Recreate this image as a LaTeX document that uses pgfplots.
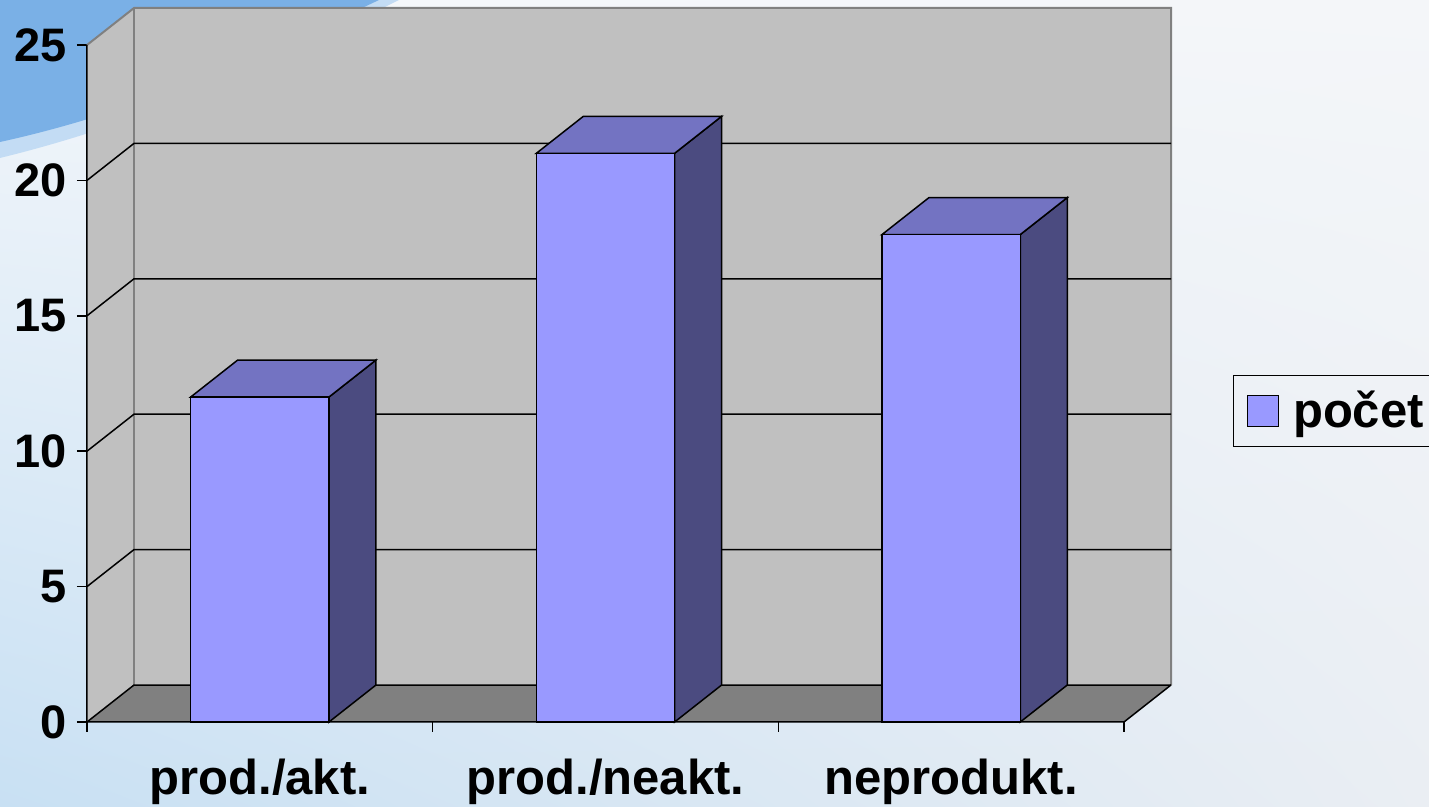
\documentclass[border=0pt]{standalone}
\usepackage{fontspec}
\setmainfont{Liberation Sans}
\usepackage{pgfplots}
\pgfplotsset{compat=1.18}
\usetikzlibrary{shadings}
\definecolor{barfront}{HTML}{9999FF}
\definecolor{bartop}{HTML}{7373C2}
\definecolor{barside}{HTML}{4B4B80}
\definecolor{wall}{HTML}{C0C0C0}
\definecolor{floorgray}{HTML}{808080}
\definecolor{walledge}{HTML}{808080}
\definecolor{bgul}{RGB}{244,247,251}
\definecolor{bgur}{RGB}{244,246,249}
\definecolor{bgll}{RGB}{200,224,243}
\definecolor{bglr}{RGB}{234,238,243}
\definecolor{bgblue}{RGB}{122,176,230}
\newcommand{\lblfont}{\fontsize{24.5}{29}\selectfont\bfseries}
\newcommand{\numfont}{\fontsize{23.5}{28}\selectfont\bfseries}

\begin{document}
\begin{tikzpicture}
% background of the slide
\shade[upper left=bgul, upper right=bgur, lower left=bgll, lower right=bglr]
  (-43.5pt,-42.5pt) rectangle (671pt,361pt);
\fill[bgblue!45!white] (-43.5pt,361pt) -- (156pt,361pt) .. controls (90pt,328pt) and (30pt,300pt) .. (-43.5pt,282pt) -- cycle;
\fill[bgblue] (-43.5pt,361pt) -- (146pt,361pt) .. controls (85pt,332pt) and (25pt,305pt) .. (-43.5pt,290pt) -- cycle;

\begin{axis}[
  at={(0,0)}, anchor=south west,
  x=172.83pt, y=13.54pt,
  xmin=0, xmax=3.14, ymin=0, ymax=26.4,
  clip=false,
  axis line style={draw=none},
  tick align=outside,
  major tick length=5pt,
  tick style={black, line width=0.75pt},
  xtick={0,1,2,3},
  x tick label as interval,
  xticklabels={prod./akt., prod./neakt., neprodukt.},
  ytick={0,5,...,25},
  xtick pos=bottom, ytick pos=left,
  /pgf/number format/assume math mode=true,
  ticklabel style={font=\lblfont},
  yticklabel style={anchor=east, xshift=-1.5pt, font=\numfont},
  xticklabel style={anchor=base, yshift=-31.5pt},
  legend style={at={(axis description cs:1.0557,0.435)}, anchor=west,
    draw=black, line width=0.75pt, fill=none, font=\lblfont,
    inner xsep=3pt, inner ysep=5.75pt},
  legend image code/.code={%
    \path (-3.5pt,0pt) (20.5pt,0pt);
    \draw[fill=barfront, draw=black, line width=0.6pt] (0pt,-7.75pt) rectangle (15.5pt,7.75pt);},
]
% walls and floor
\fill[wall] (axis cs:0,0) -- (axis cs:0.136,1.366) -- (axis cs:0.136,26.366) -- (axis cs:0,25) -- cycle;
\fill[wall] (axis cs:0.136,1.366) rectangle (axis cs:3.136,26.366);
\fill[floorgray] (axis cs:0,0) -- (axis cs:3,0) -- (axis cs:3.136,1.366) -- (axis cs:0.136,1.366) -- cycle;
\draw[walledge, line width=1pt] (axis cs:0,25) -- (axis cs:0.136,26.366) -- (axis cs:3.136,26.366) -- (axis cs:3.136,1.366);
\draw[walledge, line width=1pt] (axis cs:0.136,1.366) -- (axis cs:0.136,26.366);
% grid lines on side and back wall
\draw[black, line width=0.75pt] (axis cs:0,0) -- (axis cs:0.136,1.366) -- (axis cs:3.136,1.366);
\draw[black, line width=0.75pt] (axis cs:0,5) -- (axis cs:0.136,6.366) -- (axis cs:3.136,6.366);
\draw[black, line width=0.75pt] (axis cs:0,10) -- (axis cs:0.136,11.366) -- (axis cs:3.136,11.366);
\draw[black, line width=0.75pt] (axis cs:0,15) -- (axis cs:0.136,16.366) -- (axis cs:3.136,16.366);
\draw[black, line width=0.75pt] (axis cs:0,20) -- (axis cs:0.136,21.366) -- (axis cs:3.136,21.366);
% front axis edges
\draw[black, line width=0.75pt] (axis cs:0,25) -- (axis cs:0,0) -- (axis cs:3,0) -- (axis cs:3.136,1.366);

% bar sides
\addplot[fill=barside, draw=black, line width=0.75pt, mark=none, forget plot]
  coordinates {(0.7,0) (0.836,1.366) (0.836,13.366) (0.7,12)} -- cycle;
\addplot[fill=barside, draw=black, line width=0.75pt, mark=none, forget plot]
  coordinates {(1.7,0) (1.836,1.366) (1.836,22.366) (1.7,21)} -- cycle;
\addplot[fill=barside, draw=black, line width=0.75pt, mark=none, forget plot]
  coordinates {(2.7,0) (2.836,1.366) (2.836,19.366) (2.7,18)} -- cycle;
% bar tops
\addplot[fill=bartop, draw=black, line width=0.75pt, mark=none, forget plot]
  coordinates {(0.3,12) (0.436,13.366) (0.836,13.366) (0.7,12)} -- cycle;
\addplot[fill=bartop, draw=black, line width=0.75pt, mark=none, forget plot]
  coordinates {(1.3,21) (1.436,22.366) (1.836,22.366) (1.7,21)} -- cycle;
\addplot[fill=bartop, draw=black, line width=0.75pt, mark=none, forget plot]
  coordinates {(2.3,18) (2.436,19.366) (2.836,19.366) (2.7,18)} -- cycle;
% bar fronts
\addplot[ybar, bar width=0.4, fill=barfront, draw=black, line width=0.75pt]
  coordinates {(0.5,12) (1.5,21) (2.5,18)};
\addlegendentry{počet}
\end{axis}
\pgfresetboundingbox
\path (-43.5pt,-42.5pt) rectangle (671pt,361pt);
\end{tikzpicture}
\end{document}
